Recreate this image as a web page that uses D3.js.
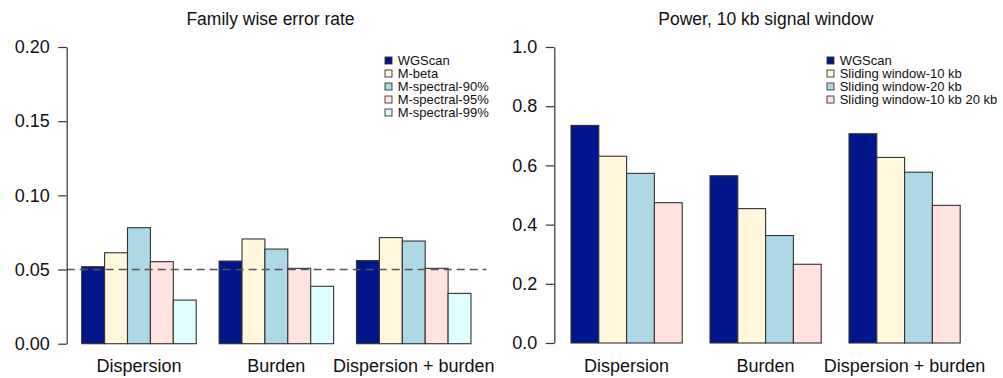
<!DOCTYPE html>
<html><head><meta charset="utf-8">
<script src="https://cdn.jsdelivr.net/npm/d3@7"></script>
<style>body{margin:0;background:#fff}svg{display:block;font-family:"Liberation Sans",Arial,Helvetica,sans-serif}</style>
</head><body><svg id="c" width="1003" height="378"></svg>
<script>
const categories = ["Dispersion", "Burden", "Dispersion + burden"];
// Left panel: family wise error rate
const fwerSeries = ["WGScan", "M-beta", "M-spectral-90%", "M-spectral-95%", "M-spectral-99%"];
const fwerColors = ["#00168a", "#fff8dc", "#add8e6", "#ffe4e1", "#e0ffff"];
const fwerValues = [
  [0.0519, 0.0613, 0.0782, 0.0553, 0.0294],
  [0.0557, 0.0706, 0.0638, 0.0508, 0.0387],
  [0.0560, 0.0715, 0.0692, 0.0508, 0.0339]
];
const fwerTicks = [0, 0.05, 0.10, 0.15, 0.20];
const fwerThreshold = 0.05;
// Right panel: power
const powSeries = ["WGScan", "Sliding window-10 kb", "Sliding window-20 kb", "Sliding window-10 kb 20 kb"];
const powColors = ["#00168a", "#fff8dc", "#add8e6", "#ffe4e1"];
const powValues = [
  [0.735, 0.631, 0.573, 0.474],
  [0.565, 0.454, 0.363, 0.266],
  [0.707, 0.627, 0.577, 0.465]
];
const powTicks = [0, 0.2, 0.4, 0.6, 0.8, 1.0];

const svg = d3.select("#c");

function panel(o) {
  const g = svg.append("g");
  const nS = o.series.length;
  const per = nS + 1;
  const x = d3.scaleLinear().domain([0, categories.length * per]).range(o.xr);
  const y = d3.scaleLinear().domain(o.ydom).range(o.yr);
  // bars
  o.values.forEach((vals, gi) => {
    vals.forEach((v, si) => {
      const u = gi * per + 1 + si;
      g.append("rect")
        .attr("x", x(u)).attr("width", x(u + 1) - x(u))
        .attr("y", y(v)).attr("height", y(0) - y(v))
        .attr("fill", o.colors[si]).attr("stroke", "#333").attr("stroke-width", 1.1);
    });
    g.append("text")
      .attr("x", x(gi * per + 1 + nS / 2)).attr("y", 371.5)
      .attr("text-anchor", "middle").attr("font-size", 18).attr("fill", "#111")
      .text(categories[gi]);
  });
  // threshold
  if (o.threshold != null) {
    g.append("line")
      .attr("x1", o.axisX).attr("x2", o.dashEnd)
      .attr("y1", y(o.threshold)).attr("y2", y(o.threshold))
      .attr("stroke", "#555").attr("stroke-width", 1.5).attr("stroke-dasharray", "8,5");
  }
  // axis
  const ax = g.append("g").attr("transform", `translate(${o.axisX},0)`)
    .call(d3.axisLeft(y).tickValues(o.ticks).tickFormat(d3.format(o.fmt)).tickSize(8.5).tickSizeOuter(0).tickPadding(8.5));
  ax.select(".domain").attr("stroke", "#333").attr("stroke-width", 1.2);
  ax.selectAll(".tick line").attr("stroke", "#333").attr("stroke-width", 1.2);
  ax.selectAll(".tick text").attr("font-size", 18).attr("fill", "#111").attr("font-family", "Liberation Sans, Arial, sans-serif");
  // title
  g.append("text").attr("x", o.titleX).attr("y", 25).attr("text-anchor", "middle")
    .attr("font-size", 17.5).attr("fill", "#111").text(o.title);
  // legend
  const lg = g.append("g");
  o.series.forEach((s, i) => {
    const cy = 60.5 + i * 13;
    lg.append("rect").attr("x", o.legX).attr("y", cy - 3.5).attr("width", 7).attr("height", 7)
      .attr("fill", o.colors[i]).attr("stroke", "#333").attr("stroke-width", 0.9);
    lg.append("text").attr("x", o.legX + 12.7).attr("y", cy).attr("dy", "0.36em")
      .attr("font-size", 13).attr("fill", "#111").text(s);
  });
}

panel({
  series: fwerSeries, colors: fwerColors, values: fwerValues,
  ydom: [0, 0.2], yr: [343.7, 47], xr: [58.8, 471.0],
  ticks: fwerTicks, fmt: ".2f", axisX: 66.7, threshold: fwerThreshold, dashEnd: 486.5,
  title: "Family wise error rate", titleX: 270.5, legX: 385
});
panel({
  series: powSeries, colors: powColors, values: powValues,
  ydom: [0, 1], yr: [343, 47], xr: [543.2, 960.2],
  ticks: powTicks, fmt: ".1f", axisX: 554.3, threshold: null,
  title: "Power, 10 kb signal window", titleX: 765.8, legX: 827
});
</script></body></html>
